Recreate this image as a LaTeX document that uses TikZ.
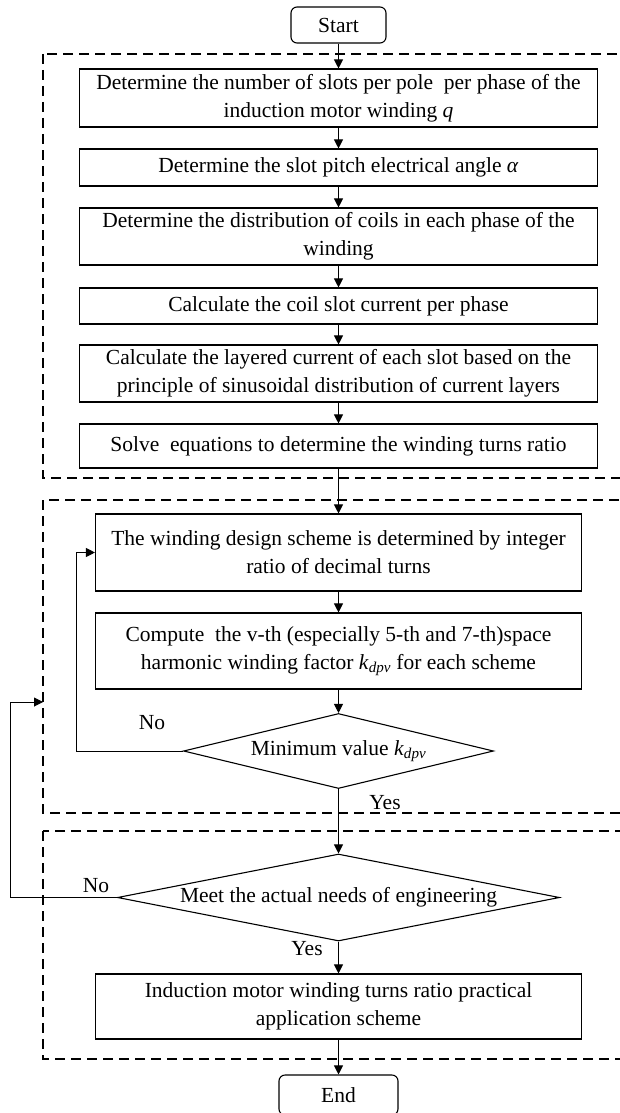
\documentclass[tikz,border=0pt]{standalone}
\usepackage{fontspec}
\setmainfont{Liberation Serif}
\usetikzlibrary{arrows.meta,shapes.geometric}
\begin{document}
\begin{tikzpicture}[x=1pt,y=-1pt,
  every node/.style={font=\fontsize{21.5}{28}\selectfont},
  proc/.style={draw, line width=1.1pt, align=center, inner sep=0pt},
  term/.style={draw, line width=1.1pt, rounded corners=6pt, inner sep=0pt, minimum height=36pt},
  dec/.style={draw, diamond, line width=1.1pt, inner sep=0pt},
  arr/.style={line width=1pt, -{Triangle[length=9pt,width=9pt]}},
  group/.style={line width=1.1pt, dash pattern=on 10pt off 6pt},
  lbl/.style={inner sep=0pt}]
\useasboundingbox (0,0) rectangle (620,1113);
\clip (0,0) rectangle (620,1113);
% groups
\draw[group] (43,54) rectangle (650,478);
\draw[group] (43,500) rectangle (650,813);
\draw[group] (43,831) rectangle (650,1059);
% nodes
\node[term, minimum width=95pt] (start) at (338.5,25) {Start};
\node[proc, minimum width=518pt, minimum height=58pt] (b1) at (338.5,98) {Determine the number of slots per pole\ \ per phase of the\\induction motor winding \textit{q}};
\node[proc, minimum width=518pt, minimum height=37pt] (b2) at (338.5,167.5) {Determine the slot pitch electrical angle \textit{α}};
\node[proc, minimum width=518pt, minimum height=57pt] (b3) at (338.5,236.5) {Determine the distribution of coils in each phase of the\\winding};
\node[proc, minimum width=518pt, minimum height=36pt] (b4) at (338.5,306) {Calculate the coil slot current per phase};
\node[proc, minimum width=518pt, minimum height=57pt] (b5) at (338.5,373.5) {Calculate the layered current of each slot based on the\\principle of sinusoidal distribution of current layers};
\node[proc, minimum width=518pt, minimum height=44pt] (b6) at (338.5,446) {Solve\ \ equations to determine the winding turns ratio};
\node[proc, minimum width=486pt, minimum height=77pt] (b7) at (338.5,552.5) {The winding design scheme is determined by integer\\ratio of decimal turns};
\node[proc, minimum width=486pt, minimum height=76pt] (b8) at (338.5,651) {Compute\ \ the v-th (especially 5-th and 7-th)space\\harmonic winding factor \textit{k}\textsubscript{\textit{dpv}} for each scheme};
\node[dec, minimum width=310pt, minimum height=75pt] (d1) at (338.5,751) {\makebox[0pt]{Minimum value \textit{k}\textsubscript{\textit{dpv}}}};
\node[dec, minimum width=442pt, minimum height=87pt] (d2) at (338.5,897.5) {\makebox[0pt]{Meet the actual needs of engineering}};
\node[proc, minimum width=486pt, minimum height=65pt] (b9) at (338.5,1006.5) {Induction motor winding turns ratio practical\\application scheme};
\node[term, minimum width=119pt, minimum height=40pt] (end) at (338.5,1095) {End};
% labels
\node[lbl] (no1) at (152,723) {No};
\node[lbl] (yes1) at (385,803) {Yes};
\node[lbl] (no2) at (96,886) {No};
\node[lbl] (yes2) at (307,949) {Yes};
% helper coordinates
\coordinate (l1) at (76,751);
\coordinate (l2) at (10,897.5);
\coordinate (g2in) at (43,702);
% connectors
\draw[arr] (start) -- (b1);
\draw[arr] (b1) -- (b2);
\draw[arr] (b2) -- (b3);
\draw[arr] (b3) -- (b4);
\draw[arr] (b4) -- (b5);
\draw[arr] (b5) -- (b6);
\draw[arr] (b6) -- (b7);
\draw[arr] (b7) -- (b8);
\draw[arr] (b8) -- (d1);
\draw[arr] (d1) -- (d2);
\draw[arr] (d2) -- (b9);
\draw[arr] (b9) -- (end);
\draw[arr] (d1.west) -- (l1) |- (b7.west);
\draw[arr] (d2.west) -- (l2) |- (g2in);
\end{tikzpicture}
\end{document}
